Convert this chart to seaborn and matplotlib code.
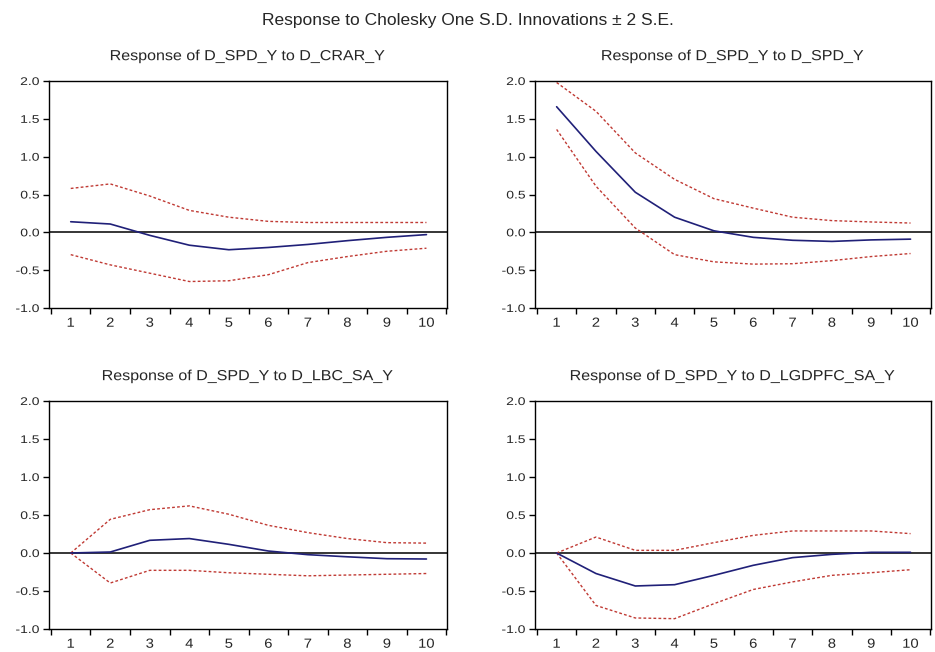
import matplotlib
matplotlib.use("Agg")
import matplotlib.pyplot as plt
from matplotlib.ticker import FixedLocator, NullFormatter
from matplotlib.patheffects import AbstractPathEffect
from matplotlib.transforms import Affine2D
import seaborn as sns
import pandas as pd

# Impulse-response horizons
periods = [1, 2, 3, 4, 5, 6, 7, 8, 9, 10]

# Response of D_SPD_Y to D_CRAR_Y
crar_resp = [0.14, 0.11, -0.04, -0.17, -0.23, -0.20, -0.16, -0.11, -0.066, -0.03]
crar_upper = [0.58, 0.64, 0.48, 0.29, 0.20, 0.145, 0.13, 0.13, 0.13, 0.13]
crar_lower = [-0.295, -0.43, -0.54, -0.65, -0.64, -0.56, -0.40, -0.32, -0.25, -0.21]

# Response of D_SPD_Y to D_SPD_Y
spd_resp = [1.66, 1.07, 0.53, 0.20, 0.02, -0.066, -0.105, -0.12, -0.10, -0.09]
spd_upper = [1.98, 1.60, 1.05, 0.70, 0.445, 0.32, 0.20, 0.155, 0.137, 0.123]
spd_lower = [1.36, 0.61, 0.057, -0.295, -0.39, -0.42, -0.415, -0.374, -0.32, -0.28]

# Response of D_SPD_Y to D_LBC_SA_Y
lbc_resp = [0.0, 0.013, 0.167, 0.19, 0.114, 0.026, -0.022, -0.05, -0.075, -0.079]
lbc_upper = [0.0, 0.443, 0.57, 0.62, 0.51, 0.364, 0.268, 0.19, 0.136, 0.13]
lbc_lower = [0.0, -0.395, -0.228, -0.228, -0.26, -0.28, -0.30, -0.29, -0.28, -0.27]

# Response of D_SPD_Y to D_LGDPFC_SA_Y
gdp_resp = [0.0, -0.27, -0.434, -0.417, -0.294, -0.162, -0.061, -0.018, 0.009, 0.009]
gdp_upper = [0.0, 0.21, 0.035, 0.035, 0.136, 0.232, 0.29, 0.29, 0.29, 0.255]
gdp_lower = [0.0, -0.69, -0.855, -0.864, -0.667, -0.48, -0.38, -0.294, -0.259, -0.22]

panel_titles = [
    "Response of D_SPD_Y to D_CRAR_Y",
    "Response of D_SPD_Y to D_SPD_Y",
    "Response of D_SPD_Y to D_LBC_SA_Y",
    "Response of D_SPD_Y to D_LGDPFC_SA_Y",
]
y_ticks = [-1.0, -0.5, 0.0, 0.5, 1.0, 1.5, 2.0]
main_title = "Response to Cholesky One S.D. Innovations \u00b1 2 S.E."

panels = [
    (crar_resp, crar_upper, crar_lower),
    (spd_resp, spd_upper, spd_lower),
    (lbc_resp, lbc_upper, lbc_lower),
    (gdp_resp, gdp_upper, gdp_lower),
]


class HStretch(AbstractPathEffect):
    """Widen glyphs horizontally about the left, centre or right of the text."""

    def __init__(self, sx, anchor="center"):
        super().__init__()
        self.sx = sx
        self.anchor = anchor

    def draw_path(self, renderer, gc, tpath, affine, rgbFace=None):
        ext = tpath.get_extents()
        if self.anchor == "right":
            cx = ext.x1
        elif self.anchor == "left":
            cx = ext.x0
        else:
            cx = 0.5 * (ext.x0 + ext.x1)
        tr = Affine2D().translate(-cx, 0).scale(self.sx, 1.0).translate(cx, 0) + affine
        renderer.draw_path(gc, tpath, tr, rgbFace)


sns.set_style("white")
plt.rcParams["font.family"] = ["Liberation Sans", "DejaVu Sans"]

W, H = 935, 652
fig = plt.figure(figsize=(W / 100, H / 100), dpi=100)

# axes boxes in pixel units: left, top, right, bottom
boxes = [
    (49, 81, 447, 308),
    (535, 81, 931, 308),
    (49, 401, 447, 629),
    (535, 401, 931, 629),
]

navy = "#202078"
red = "#c03a34"
text_col = "#262626"

for (l, t, r, b), title, (resp, up, lo) in zip(boxes, panel_titles, panels):
    ax = fig.add_axes([l / W, 1 - b / H, (r - l) / W, (b - t) / H])
    df = pd.DataFrame({"period": periods, "resp": resp, "upper": up, "lower": lo})
    sns.lineplot(data=df, x="period", y="upper", ax=ax, color=red, lw=1.0,
                 linestyle=(0, (2.0, 1.6)))
    sns.lineplot(data=df, x="period", y="lower", ax=ax, color=red, lw=1.0,
                 linestyle=(0, (2.0, 1.6)))
    sns.lineplot(data=df, x="period", y="resp", ax=ax, color=navy, lw=1.2)
    ax.axhline(0, color="black", lw=1.1, zorder=1)

    ax.set_xlim(0.45, 10.52)
    ax.set_ylim(-1.0, 2.0)
    ax.set_xlabel("")
    ax.set_ylabel("")
    ttl = ax.set_title(title, fontsize=10.5, pad=15, color=text_col)
    ttl.set_path_effects([HStretch(1.1)])

    ax.xaxis.set_major_locator(FixedLocator(periods))
    ax.set_xticklabels([str(p) for p in periods])
    ax.xaxis.set_minor_locator(FixedLocator([p - 0.5 for p in periods] + [10.5]))
    ax.xaxis.set_minor_formatter(NullFormatter())
    ax.tick_params(axis="x", which="major", length=0, pad=7, labelsize=9.5,
                   labelcolor=text_col)
    ax.tick_params(axis="x", which="minor", length=4, width=1.0, direction="out",
                   color="black", bottom=True)
    ax.set_yticks(y_ticks)
    ax.set_yticklabels([f"{v:.1f}" for v in y_ticks])
    ax.tick_params(axis="y", length=4.5, width=1.0, direction="out", left=True,
                   labelsize=8, color="black", labelcolor=text_col, pad=2.5)
    for lab in ax.get_xticklabels():
        lab.set_path_effects([HStretch(1.12)])
    for lab in ax.get_yticklabels():
        lab.set_path_effects([HStretch(1.25, "right")])
    for s in ax.spines.values():
        s.set_color("black")
        s.set_linewidth(1.0)

sup = fig.text(0.5, 1 - 21 / H, main_title, ha="center", va="center",
               fontsize=12.5, color=text_col)

fig.savefig("out.png", dpi=100, facecolor="white")
